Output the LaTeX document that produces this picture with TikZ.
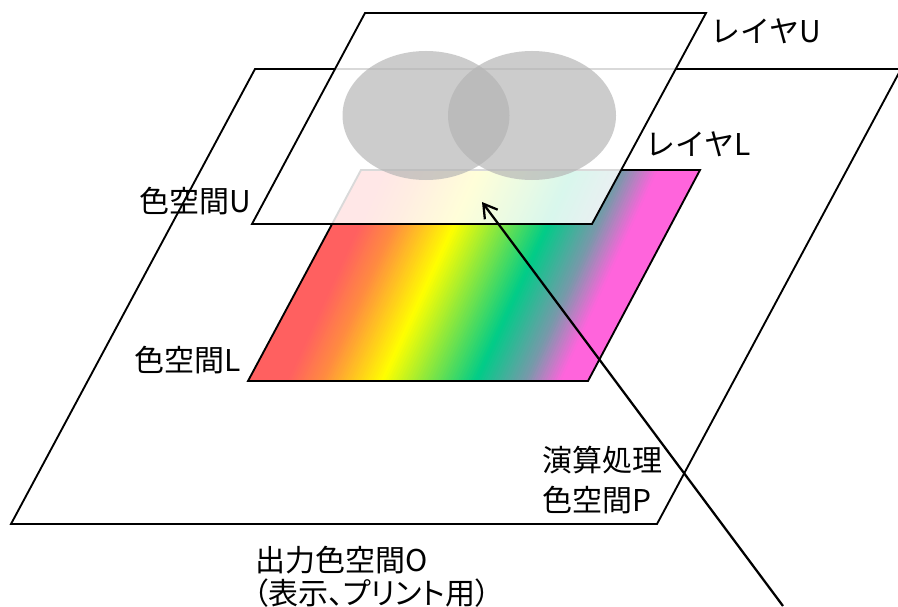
\documentclass[tikz,border=0pt]{standalone}
\usepackage{fontspec}
\setmainfont{Noto Sans CJK JP}
\newfontfamily\pfont[RawFeature=+palt]{Noto Sans CJK JP}
\usetikzlibrary{arrows.meta}
\definecolor{rbRed}{RGB}{255,96,96}
\definecolor{rbOrange}{RGB}{255,140,64}
\definecolor{rbYellow}{RGB}{255,255,0}
\definecolor{rbGreen}{RGB}{0,204,136}
\definecolor{rbSlate}{RGB}{120,153,170}
\definecolor{rbPink}{RGB}{255,100,220}
\definecolor{ellgray}{RGB}{179,179,179}
\begin{document}
\begin{tikzpicture}[x=0.75pt,y=-0.75pt,
  plane/.style={draw=black, line width=1.4pt, line join=miter},
  lbl/.style={anchor=base west, inner sep=0pt, font=\fontsize{22.5pt}{30pt}\selectfont},
  blob/.style={fill=ellgray, fill opacity=0.667},
  ptr/.style={draw=black, line width=1.7pt, -{Straight Barb[length=10pt,width=12pt]}}]
\useasboundingbox (0,0) rectangle (898,606);
% output colour space O
\draw[plane, fill=white] (255,69) -- (901,69) -- (657,524) -- (11,524) -- cycle;
% rainbow plane L
\begin{scope}
  \clip (361,170) -- (700,170) -- (588,381) -- (248,381) -- cycle;
  \foreach \a/\b/\ca/\cb/\n in {330/385/rbRed/rbRed/1, 385/420/rbRed/rbOrange/14, 420/480/rbOrange/rbYellow/24, 480/573/rbYellow/rbGreen/36, 573/623/rbGreen/rbSlate/20, 623/658/rbSlate/rbPink/14, 658/720/rbPink/rbPink/1} {
    \foreach \k in {1,...,\n} {
      \pgfmathsetmacro\sa{\a+(\b-\a)*(\k-1)/\n}
      \pgfmathsetmacro\sb{\a+(\b-\a)*\k/\n+0.8}
      \pgfmathsetmacro\pc{100-100*(\k-0.5)/\n}
      \fill[\ca!\pc!\cb] (\sa,170) -- (\sb,170) -- (\sb-97.06,381) -- (\sa-97.06,381) -- cycle;
    }
  }
\end{scope}
\draw[plane] (361,170) -- (700,170) -- (588,381) -- (248,381) -- cycle;
% layer U
\draw[plane, fill=white, fill opacity=0.85] (365,13) -- (706,13) -- (592,224) -- (252,224) -- cycle;
\fill[blob] (426,115.5) ellipse [x radius=83.5, y radius=64.5];
\fill[blob] (532,115.5) ellipse [x radius=84, y radius=64.5];
% labels
\node[lbl] (layU) at (710,43) {レイヤU};
\node[lbl] (layL) at (645,156) {レイヤL};
\node[lbl] (csU) at (139.5,212) {色空間U};
\node[lbl] (csL) at (134.5,371) {色空間L};
\node[lbl] (procA) at (542.5,471) {演算処理};
\node[lbl] (procB) at (542.5,511) {色空間P};
\node[lbl] (outA) at (255.5,571) {出力色空間O};
\node[lbl] (outB) at (253,604) {\pfont （表示、プリント用）};
% arrow
\coordinate (arrowStart) at (783,606);
\coordinate (arrowTip) at (482,202);
\draw[ptr] (arrowStart) -- (arrowTip);
\end{tikzpicture}
\end{document}
